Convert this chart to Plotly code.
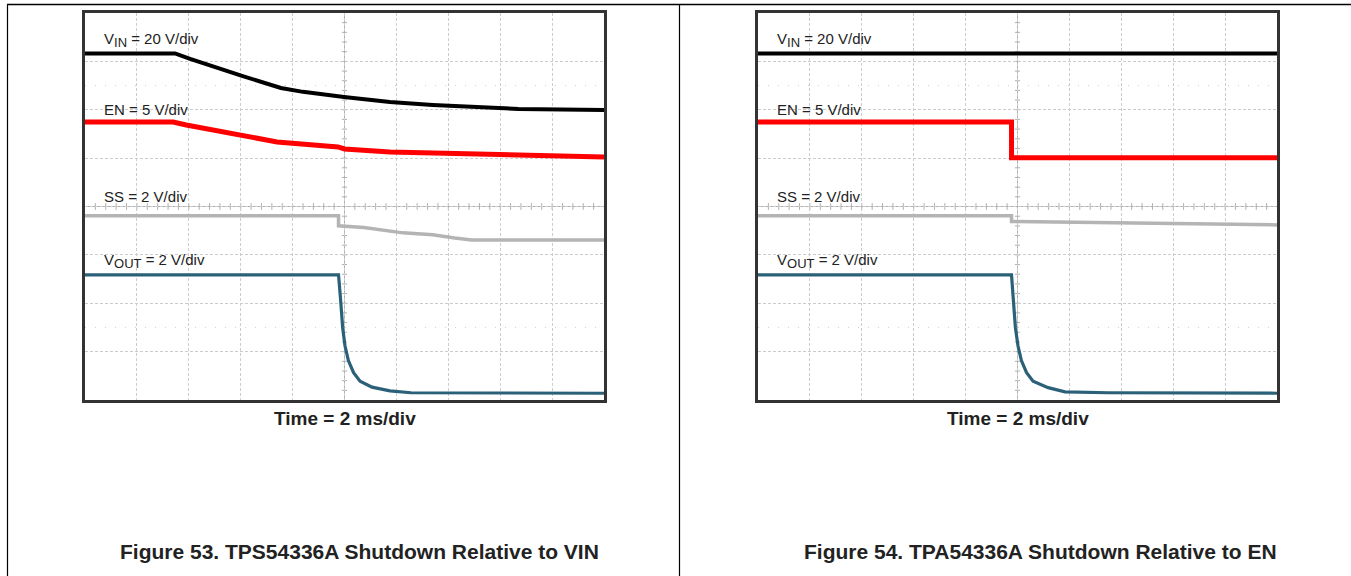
import numpy as np
import plotly.graph_objects as go

W, H = 1351, 576

# ---- channel settings (volts per division, ground reference in divisions) ----
CH_SCALE = {"VIN": 20.0, "EN": 5.0, "SS": 2.0, "VOUT": 2.0}
CH_GROUND = {"VIN": 1.95, "EN": 0.98, "SS": -1.02, "VOUT": -3.86}
CH_COLOR = {"VIN": "#000000", "EN": "#ff0000", "SS": "#b4b4b4", "VOUT": "#2b6079"}
CH_WIDTH = {"VIN": 4, "EN": 5, "SS": 3.5, "VOUT": 3.2}

# ---- Figure 53 (shutdown relative to VIN), time in ms, values in volts ----
f53_vin_t = [0, 3.47, 4.05, 5.05, 6.05, 7.55, 8.4, 9.98, 11.75, 13.4, 15.07, 16.7, 20]
f53_vin_v = [24.3, 24.3, 22.0, 18.7, 15.0, 10.0, 8.4, 6.3, 4.2, 3.0, 2.2, 1.3, 0.9]
f53_en_t = [0, 1.8, 2.4, 3.4, 3.9, 5.4, 7.4, 9.75, 10.0, 11.75, 14.25, 16.7, 20]
f53_en_v = [3.84, 3.84, 3.9, 3.84, 3.53, 2.81, 1.77, 1.26, 1.05, 0.74, 0.53, 0.43, 0.22]
f53_ss_t = [0, 9.77, 9.77, 10.75, 12.25, 13.4, 14.25, 14.9, 20]
f53_ss_v = [1.66, 1.66, 1.24, 1.17, 0.95, 0.87, 0.74, 0.66, 0.66]
f53_vout_t = [0, 9.77, 9.85, 9.93, 10.02, 10.15, 10.35, 10.6, 11.06, 11.75, 12.56, 20]
f53_vout_v = [4.89, 4.89, 3.86, 2.70, 1.95, 1.35, 0.85, 0.50, 0.25, 0.10, 0.02, 0.0]

# ---- Figure 54 (shutdown relative to EN) ----
f54_vin_t = [0, 20]
f54_vin_v = [24.3, 24.3]
f54_en_t = [0, 9.77, 9.77, 20]
f54_en_v = [3.84, 3.84, 0.15, 0.15]
f54_ss_t = [0, 9.77, 9.77, 13.0, 17.3, 20]
f54_ss_v = [1.66, 1.66, 1.42, 1.37, 1.32, 1.28]
f54_vout_t = [0, 9.77, 9.84, 9.92, 10.02, 10.15, 10.35, 10.6, 11.18, 11.83, 13.49, 20]
f54_vout_v = [4.89, 4.89, 3.86, 2.70, 1.95, 1.35, 0.85, 0.50, 0.23, 0.06, 0.02, 0.0]

SUB = "<sub><span style='font-size:13px'>{}</span></sub>"
labels = [
    ("VIN", "V" + SUB.format("IN") + " = 20 V/div", 40),
    ("EN", "EN = 5 V/div", 109),
    ("SS", "SS = 2 V/div", 196),
    ("VOUT", "V" + SUB.format("OUT") + " = 2 V/div", 261),
]
x_title = "Time = 2 ms/div"
captions = ["Figure 53. TPS54336A Shutdown Relative to VIN",
            "Figure 54. TPA54336A Shutdown Relative to EN"]

panels = [
    {"data": {"VIN": (f53_vin_t, f53_vin_v), "EN": (f53_en_t, f53_en_v),
              "SS": (f53_ss_t, f53_ss_v), "VOUT": (f53_vout_t, f53_vout_v)},
     "px": (85, 604), "cap_x": 359},
    {"data": {"VIN": (f54_vin_t, f54_vin_v), "EN": (f54_en_t, f54_en_v),
              "SS": (f54_ss_t, f54_ss_v), "VOUT": (f54_vout_t, f54_vout_v)},
     "px": (758, 1277), "cap_x": 1040},
]

PY_TOP, PY_BOT = 13, 400
FONT = "Liberation Sans, Arial, sans-serif"

fig = go.Figure()
shapes = []
annotations = []

for i, p in enumerate(panels):
    xa = "x" if i == 0 else "x2"
    ya = "y" if i == 0 else "y2"
    for ch in ["SS", "VOUT", "EN", "VIN"]:
        t, v = p["data"][ch]
        y = CH_GROUND[ch] + np.array(v) / CH_SCALE[ch]
        fig.add_trace(go.Scatter(x=t, y=y, mode="lines", xaxis=xa, yaxis=ya,
                                 line=dict(color=CH_COLOR[ch], width=CH_WIDTH[ch]),
                                 showlegend=False, hoverinfo="skip"))
    # ground reference markers
    fig.add_trace(go.Scatter(x=[-0.2] * 4, y=[CH_GROUND[c] for c in ["VIN", "EN", "SS", "VOUT"]],
                             mode="markers", xaxis=xa, yaxis=ya, cliponaxis=False,
                             marker=dict(symbol="triangle-right", size=6, color="#111"),
                             showlegend=False, hoverinfo="skip"))
    # center cross lines with minor ticks
    shapes.append(dict(type="line", xref=xa, yref=ya, x0=10, x1=10, y0=-4, y1=4,
                       line=dict(color="#b0b0b0", width=1), layer="below"))
    shapes.append(dict(type="line", xref=xa, yref=ya, x0=0, x1=20, y0=0, y1=0,
                       line=dict(color="#b0b0b0", width=1), layer="below"))
    for k in range(1, 50):
        tx = k * 0.4
        shapes.append(dict(type="line", xref=xa, yref=ya, x0=tx, x1=tx, y0=-0.07, y1=0.07,
                           line=dict(color="#b0b0b0", width=1), layer="below"))
    for k in range(1, 40):
        ty = -4 + k * 0.2
        shapes.append(dict(type="line", xref=xa, yref=ya, x0=9.9, x1=10.1, y0=ty, y1=ty,
                           line=dict(color="#b0b0b0", width=1), layer="below"))
    for ty in (2.5, -2.5):
        shapes.append(dict(type="line", xref=xa, yref=ya, x0=0, x1=20, y0=ty, y1=ty,
                           line=dict(color="#cfcfcf", width=1, dash="1px,9px"), layer="below"))
    # labels
    x0px = p["px"][0]
    for ch, txt, ypx in labels:
        annotations.append(dict(text=txt, xref="paper", yref="paper",
                                x=(x0px + 17) / W, y=1 - ypx / H, xanchor="left", yanchor="middle",
                                showarrow=False, font=dict(family=FONT, size=15, color="#222")))
    cx = (p["px"][0] + p["px"][1]) / 2
    annotations.append(dict(text="<b>" + x_title + "</b>", xref="paper", yref="paper",
                            x=cx / W, y=1 - 418 / H, xanchor="center", yanchor="middle",
                            showarrow=False, font=dict(family=FONT, size=19, color="#222")))
    annotations.append(dict(text="<b>" + captions[i] + "</b>", xref="paper", yref="paper",
                            x=p["cap_x"] / W, y=1 - 551 / H, xanchor="center", yanchor="middle",
                            showarrow=False, font=dict(family=FONT, size=21, color="#222")))

# page frame lines
shapes.append(dict(type="line", xref="paper", yref="paper", x0=7 / W, x1=1, y0=1 - 4.5 / H, y1=1 - 4.5 / H,
                   line=dict(color="#000", width=1.5)))
shapes.append(dict(type="line", xref="paper", yref="paper", x0=7.5 / W, x1=7.5 / W, y0=0, y1=1 - 4.5 / H,
                   line=dict(color="#000", width=1.2)))
shapes.append(dict(type="line", xref="paper", yref="paper", x0=679.5 / W, x1=679.5 / W, y0=0, y1=1 - 4.5 / H,
                   line=dict(color="#000", width=1.2)))

axis_common = dict(showticklabels=False, ticks="", showgrid=True, gridcolor="#cccccc",
                   griddash="3px,2px", gridwidth=1, zeroline=False, showline=True, mirror=True,
                   linecolor="#333333", linewidth=3, fixedrange=True)

fig.update_layout(
    width=W, height=H, margin=dict(l=0, r=0, t=0, b=0),
    paper_bgcolor="white", plot_bgcolor="white",
    xaxis=dict(domain=[85 / W, 604 / W], range=[0, 20], dtick=2, tick0=0, anchor="y", **axis_common),
    yaxis=dict(domain=[1 - PY_BOT / H, 1 - PY_TOP / H], range=[-4, 4], dtick=1, tick0=0, anchor="x", **axis_common),
    xaxis2=dict(domain=[758 / W, 1277 / W], range=[0, 20], dtick=2, tick0=0, anchor="y2", **axis_common),
    yaxis2=dict(domain=[1 - PY_BOT / H, 1 - PY_TOP / H], range=[-4, 4], dtick=1, tick0=0, anchor="x2", **axis_common),
    shapes=shapes, annotations=annotations,
)

fig.write_html("out.html", config={"displayModeBar": False},
               post_script="document.body.style.margin='0px';document.body.style.overflow='hidden';")
